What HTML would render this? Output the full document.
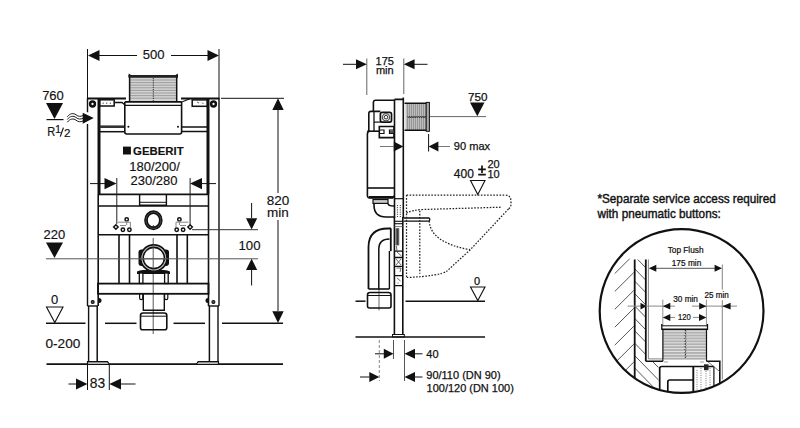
<!DOCTYPE html>
<html><head><meta charset="utf-8">
<style>
html,body{margin:0;padding:0;background:#fff;width:800px;height:428px;overflow:hidden}
svg{display:block}
text{font-family:"Liberation Sans",sans-serif;fill:#111;stroke:#111;stroke-width:0.15}
#detail-text text{stroke-width:0.4}
#side-text text{stroke-width:0.25}
#detail-text2 text{stroke-width:0.22}
</style></head><body>
<svg width="800" height="428" viewBox="0 0 800 428">
<rect width="800" height="428" fill="#fff"/>
<!-- ============ LEFT FRONT VIEW ============ -->
<g id="front" stroke="#111" fill="none" stroke-width="1">
  <!-- 500 dimension -->
  <line x1="87.5" y1="49" x2="87.5" y2="98"/>
  <line x1="219" y1="49" x2="219" y2="98"/>
  <line x1="98" y1="55.5" x2="137" y2="55.5"/>
  <line x1="171" y1="55.5" x2="209" y2="55.5"/>
  <path d="M88,55.5 L99.5,50 L99.5,61 Z M219,55.5 L207.5,50 L207.5,61 Z" fill="#111" stroke="none"/>

  <!-- grille -->
  <rect x="129.5" y="77.8" width="47.2" height="23.4" fill="#d2d2d2" stroke="none"/>
  <path d="M129.5,80.0 H176.7 M129.5,82.6 H176.7 M129.5,85.2 H176.7 M129.5,87.8 H176.7 M129.5,90.4 H176.7 M129.5,93.0 H176.7 M129.5,95.6 H176.7 M129.5,98.2 H176.7" stroke="#969696" stroke-width="0.9"/>
  <line x1="153.3" y1="78" x2="153.3" y2="101" stroke-dasharray="1.2 1" stroke-width="1" stroke="#333"/>
  <rect x="128.5" y="75" width="49.5" height="2.8" fill="#222" stroke="none"/>
  <path d="M128.5,77 L128.7,73.4 L131,75 Z M178,77 L177.8,73.4 L175.5,75 Z" fill="#111" stroke="none"/>
  <line x1="129.6" y1="77" x2="129.6" y2="101.5" stroke-width="1.5"/>
  <line x1="176.7" y1="77" x2="176.7" y2="101.5" stroke-width="1.5"/>
  <line x1="124.8" y1="101.9" x2="181.8" y2="101.9" stroke-width="1.6"/>
  <!-- frame top -->
  <line x1="87" y1="98.5" x2="126" y2="98.5" stroke-width="1.8"/>
  <line x1="181" y1="98.5" x2="219.5" y2="98.5" stroke-width="1.8"/>
  <!-- frame columns -->
  <path d="M87.5,98 L87.5,112.2 M87.5,124.1 L87.5,306" stroke-width="1.4"/>
  <line x1="88.6" y1="306" x2="88.6" y2="362" stroke-width="1.4"/>
  <line x1="99" y1="98" x2="99" y2="194" stroke-width="3"/>
  <line x1="98.2" y1="194" x2="98.2" y2="306" stroke-width="1.6"/>
  <line x1="97.2" y1="306" x2="97.2" y2="362" stroke-width="1.5"/>
  <line x1="219" y1="98" x2="219" y2="306" stroke-width="1.4"/>
  <line x1="218" y1="306" x2="218" y2="362" stroke-width="1.4"/>
  <line x1="208" y1="98" x2="208" y2="194" stroke-width="3"/>
  <line x1="208.5" y1="194" x2="208.5" y2="306" stroke-width="1.6"/>
  <line x1="209.4" y1="306" x2="209.4" y2="362" stroke-width="1.5"/>
  <line x1="87.5" y1="306" x2="98" y2="306" stroke-width="1.4"/>
  <line x1="208.5" y1="306" x2="219" y2="306" stroke-width="1.4"/>
  <circle cx="92.5" cy="104" r="2.4" stroke-width="2.5"/>
  <circle cx="213.5" cy="104" r="2.4" stroke-width="2.5"/>
  <circle cx="92.7" cy="302" r="1.5" fill="#555" stroke="#111" stroke-width="1.1"/>
  <circle cx="213.4" cy="302" r="1.5" fill="#555" stroke="#111" stroke-width="1.1"/>
  <path d="M99,298 a2.5,2.5 0 0 1 0,5" fill="#111" stroke="none"/>
  <path d="M208,298 a2.5,2.5 0 0 0 0,5" fill="#111" stroke="none"/>

  <!-- cistern top compartments -->
  <rect x="99.5" y="99.8" width="14.7" height="6.2" stroke-width="1.5"/>
  <rect x="192.2" y="99.9" width="15.2" height="6.4" stroke-width="1.5"/><path d="M197,102 l2,1 M202,102.5 l1.5,1.5" stroke="#555" stroke-width="0.9"/><path d="M190,98.8 L183,101.5 L181.6,102" stroke-width="1.2"/>
  <path d="M114.5,102.5 L122,102.5 L125,105" stroke-width="1.3"/>
  <path d="M103.1,103.2 h0.1 M106.6,103.2 h0.1 M110.3,103.2 h0.1" stroke="#555" stroke-width="1.3" stroke-linecap="round"/>
  <line x1="100" y1="126.7" x2="124.5" y2="126.7" stroke-width="2.6" stroke="#333"/>
  <line x1="100" y1="131.7" x2="124.5" y2="131.7" stroke-width="1.5"/>
  <line x1="181.5" y1="127" x2="207" y2="127" stroke-width="1.5"/>
  <line x1="181.5" y1="131.5" x2="207" y2="131.5" stroke-width="1.5"/>
  <!-- central cistern box -->
  <path d="M124.8,102 L124.8,132 Q124.8,134 126.8,134 L179.6,134 Q181.6,134 181.6,132 L181.6,102" stroke-width="1.6"/>
  <line x1="124.8" y1="105.4" x2="181.6" y2="105.4" stroke-width="1.3"/>
  <circle cx="128.4" cy="126.8" r="1" fill="#111" stroke="none"/>
  <circle cx="178" cy="126.8" r="1" fill="#111" stroke="none"/>

  <!-- cistern bottom -->
  <line x1="99" y1="194.4" x2="208" y2="194.4" stroke-width="1.8"/>
  <path d="M139.6,194.4 L139.6,205.3 L166.4,205.3 L166.4,194.4" stroke-width="1.4"/>
  <line x1="139.6" y1="202.3" x2="166.4" y2="202.3" stroke-width="1"/>
  <line x1="98" y1="206" x2="208.5" y2="206" stroke-width="1.6"/>
  <line x1="98" y1="234.7" x2="208.5" y2="234.7" stroke-width="1.6"/>

  <!-- flush ring -->
  <ellipse cx="153.4" cy="220.3" rx="7.4" ry="8.1" stroke-width="3.7"/><ellipse cx="153.4" cy="220.3" rx="7.5" ry="8.2" stroke-width="0.5" stroke="#777"/><path d="M152.5,227 L153.4,225.5 L154.3,227" stroke-width="0.9"/>

  <!-- bracket studs -->
  <g stroke-width="1.5">
    <path d="M115.9,224.8 L118.1,227 L115.9,229.2 L113.7,227 Z"/>
    <circle cx="122.9" cy="229.7" r="1.7"/><circle cx="129.4" cy="229.7" r="1.7"/>
    <circle cx="126.7" cy="219.4" r="1.7"/>
    <path d="M118,222.2 L130.4,222.2 L130.4,227.5 M120,225.5 L126,225.5 M126.7,221 L126.7,225" stroke="#888" stroke-width="1"/>
    <path d="M190.1,224.8 L192.3,227 L190.1,229.2 L187.9,227 Z"/>
    <circle cx="176.7" cy="229.7" r="1.7"/><circle cx="183.1" cy="229.7" r="1.7"/>
    <circle cx="179.4" cy="219.4" r="1.7"/>
    <path d="M176,222.2 L188.5,222.2 M176,222.2 L176,227.5 M180,225.5 L186,225.5 M179.4,221 L179.4,225" stroke="#888" stroke-width="1"/>
  </g>

  <!-- 180/200 dimension -->
  <line x1="116.8" y1="178" x2="116.8" y2="224" stroke="#222"/>
  <line x1="190.1" y1="178" x2="190.1" y2="224.5" stroke="#222"/>
  <line x1="90" y1="183.6" x2="105" y2="183.6"/>
  <line x1="202" y1="183.6" x2="216" y2="183.6"/>
  <path d="M116.5,183.6 L104.5,178 L104.5,189.2 Z M190,183.6 L202,178 L202,189.2 Z" fill="#111" stroke="none"/>

  <!-- lower zone verticals -->
  <g stroke-width="1.6">
    <line x1="119" y1="234.7" x2="119" y2="283.5"/>
    <line x1="129.5" y1="234.7" x2="129.5" y2="283.5"/>
    <line x1="177" y1="234.7" x2="177" y2="283.5"/>
    <line x1="187.3" y1="234.7" x2="187.3" y2="283.5"/>
  </g>
  <!-- drain ring -->
  <line x1="153.2" y1="238" x2="153.2" y2="334" stroke-width="0.9" stroke="#444"/>
  <path d="M137,274 L137,271.5 Q140,269.5 145,270 L162,270 Q167,269.5 170,271.5 L170,274 Z" fill="#111" stroke="none"/>
  <rect x="139.3" y="273" width="3.6" height="10.5" fill="#fff" stroke="#111" stroke-width="1.3"/>
  <rect x="164.6" y="273" width="3.6" height="10.5" fill="#fff" stroke="#111" stroke-width="1.3"/>
  <path d="M138.5,252 Q138.5,249.5 141.5,249.5 L143,249.5 L143,266 L141.5,266 Q138.5,266 138.5,263 Z" fill="#111" stroke="none"/>
  <path d="M169,252 Q169,249.5 166,249.5 L164.5,249.5 L164.5,266 L166,266 Q169,266 169,263 Z" fill="#111" stroke="none"/>
  <circle cx="153.8" cy="258" r="13.2" stroke-width="1.8" fill="#fff"/>
  <circle cx="153.8" cy="258" r="12" stroke-width="0.6" stroke="#888"/>
  <circle cx="153.8" cy="258" r="10.6" stroke-width="1.6"/>
  <line x1="153.2" y1="245.5" x2="153.2" y2="270" stroke-width="0.9" stroke="#444"/>
  <line x1="140" y1="258.8" x2="167" y2="258.8" stroke-width="1" stroke="#555"/>

  <!-- bottom bar -->
  <rect x="98" y="283.6" width="110.5" height="10.2" stroke-width="1.8"/>
  <path d="M139.6,294 L139.6,298 Q139.6,299.6 141.2,299.6 Q142.8,299.6 142.8,298 L142.8,294" stroke="#111" stroke-width="1.2"/>
  <path d="M164.6,294 L164.6,298 Q164.6,299.6 166.2,299.6 Q167.8,299.6 167.8,298 L167.8,294" stroke="#111" stroke-width="1.2"/>
  <!-- drain socket -->
  <path d="M143.3,294 L143.3,310.2 L164.3,310.2 L164.3,294" stroke-width="1.4"/>
  <path d="M140.5,315.5 Q140.5,313 143,313 L164.3,313 Q166.8,313 166.8,315.5 L166.8,327.8 Q166.8,329.8 164.8,329.8 L142.5,329.8 Q140.5,329.8 140.5,327.8 Z" stroke-width="1.6"/>
  <line x1="140.5" y1="316.2" x2="166.8" y2="316.2" stroke-width="1"/>

  <!-- floor lines -->
  <line x1="46" y1="323.3" x2="85.5" y2="323.3" stroke-width="1.5"/>
  <line x1="105" y1="323.3" x2="136.5" y2="323.3" stroke-width="1.5"/>
  <line x1="173.5" y1="323.3" x2="205" y2="323.3" stroke-width="1.5"/>
  <line x1="222" y1="323.3" x2="283" y2="323.3" stroke-width="1.5"/>
  <line x1="46.5" y1="364.1" x2="283" y2="364.1" stroke-width="1.9"/>
  <!-- feet -->
  <path d="M87.5,364 L87.5,361.6 L107.5,361.6 L109.2,364" fill="#bbb" stroke-width="1.2"/>
  <path d="M196.5,364 L198.2,361.6 L218.5,361.6 L218.5,364" fill="#bbb" stroke-width="1.2"/>

  <!-- 83 dimension -->
  <line x1="87.5" y1="364" x2="87.5" y2="390"/>
  <line x1="109.3" y1="364" x2="109.3" y2="390"/>
  <line x1="68.5" y1="384" x2="77" y2="384"/>
  <line x1="120" y1="384" x2="135.5" y2="384"/>
  <path d="M87.5,384 L76,378.5 L76,389.5 Z M109.3,384 L121,378.5 L121,389.5 Z" fill="#111" stroke="none"/>

  <!-- 760 symbol -->
  <path d="M46,103 L63,103 L54.5,119 Z" fill="#111" stroke="none"/>
  <line x1="46.5" y1="119.6" x2="63.5" y2="119.6" stroke-width="1.2"/>
  <!-- wavy + arrow -->
  <g stroke-width="0.95">
    <path d="M67.3,116.8 C70,113.2 73.5,112.8 76,114.8 C78.5,116.8 80.5,116.6 83,115.6"/>
    <path d="M67.3,119.5 C70,115.9 73.5,115.5 76,117.5 C78.5,119.5 80.5,119.3 83,118.3"/>
    <path d="M67.3,122.2 C70,118.6 73.5,118.2 76,120.2 C78.5,122.2 80.5,122 83,121"/>
  </g>
  <path d="M93.7,118 L82.7,112.7 L82.7,123.7 Z" fill="#111" stroke="none"/>
  <!-- 220 symbol -->
  <path d="M46,242.4 L63,242.4 L54.5,258 Z" fill="#111" stroke="none"/>
  <line x1="46" y1="258.8" x2="258" y2="258.8" stroke-width="1" stroke="#555"/>
  <!-- 0 symbol -->
  <path d="M46.5,307 L63,307 L54.8,322.5 Z" stroke-width="1.1"/>

  <!-- 820 dimension -->
  <line x1="221" y1="98.3" x2="284" y2="98.3"/>
  <line x1="278" y1="110" x2="278" y2="193"/>
  <line x1="278" y1="220" x2="278" y2="311"/>
  <path d="M278,98.3 L272.3,110 L283.7,110 Z M278,323 L272.3,311.3 L283.7,311.3 Z" fill="#111" stroke="none"/>

  <!-- 100 dimension -->
  <line x1="192" y1="229.7" x2="258" y2="229.7" stroke="#333"/>
  <line x1="251.6" y1="203" x2="251.6" y2="218"/>
  <line x1="251.6" y1="270" x2="251.6" y2="285.5"/>
  <path d="M251.6,229.5 L246,218.3 L257.2,218.3 Z M251.6,258.8 L246,270 L257.2,270 Z" fill="#111" stroke="none"/>
</g>

<g id="front-text">
  <text x="153.7" y="58.8" font-size="13.6" text-anchor="middle" textLength="21.8" lengthAdjust="spacingAndGlyphs">500</text>
  <text x="53" y="99.8" font-size="13" text-anchor="middle">760</text>
  <text x="47.2" y="136" font-size="12.4" textLength="8" lengthAdjust="spacingAndGlyphs">R</text>
  <text x="55" y="132.9" font-size="10.9">1</text>
  <path d="M60.3,136.6 L63.4,127.6" stroke="#111" stroke-width="1.2"/>
  <text x="64" y="136.8" font-size="11.7">2</text>
  <rect x="123" y="146.6" width="7.9" height="7.9" fill="#111"/>
  <text x="133.1" y="155" font-size="11.2" font-weight="bold" textLength="50.5" lengthAdjust="spacingAndGlyphs">GEBERIT</text>
  <text x="154.6" y="171.2" font-size="13" text-anchor="middle">180/200/</text>
  <text x="154" y="185.1" font-size="13" text-anchor="middle">230/280</text>
  <text x="54.3" y="239.3" font-size="13" text-anchor="middle">220</text>
  <text x="54.5" y="304.3" font-size="13" text-anchor="middle">0</text>
  <text x="62.9" y="347.8" font-size="13.6" text-anchor="middle">0-200</text>
  <text x="97.5" y="388.1" font-size="13.8" text-anchor="middle">83</text>
  <text x="278" y="205.4" font-size="13.5" text-anchor="middle">820</text>
  <text x="278" y="217.4" font-size="13.5" text-anchor="middle">min</text>
  <text x="249.5" y="250.3" font-size="13.2" text-anchor="middle">100</text>
</g>

<!-- ============ MIDDLE SIDE VIEW ============ -->
<g id="side" stroke="#111" fill="none" stroke-width="1">
  <!-- 175 min dim -->
  <line x1="366.8" y1="58.5" x2="366.8" y2="95" stroke="#666"/>
  <line x1="403.8" y1="58.5" x2="403.8" y2="94" stroke="#666"/>
  <line x1="343" y1="64.3" x2="357" y2="64.3"/>
  <line x1="414" y1="64.3" x2="427.5" y2="64.3"/>
  <path d="M366.8,64.3 L356,59.3 L356,69.3 Z M403.8,64.3 L414.6,59.3 L414.6,69.3 Z" fill="#111" stroke="none"/>
  <!-- 750 -->
  <path d="M470,102.5 L484.5,102.5 L477.3,116.3 Z" fill="#111" stroke="none"/>
  <line x1="430" y1="116.6" x2="486" y2="116.6" stroke="#666"/>

  <!-- cistern upper -->
  <path d="M373.4,111.5 L373.4,102.5 Q373.4,100.3 375.6,100.3 L394.5,100.3" stroke-width="1.6"/>
  <path d="M380.4,111.4 L371,111.4 Q368.8,111.4 368.8,113.6 L368.8,131.2" stroke-width="1.6"/>
  <line x1="374" y1="111.4" x2="374" y2="131" stroke-width="1.3"/>
  <rect x="380.4" y="112.3" width="11.1" height="9.8" rx="1.8" stroke-width="1.7"/>
  <circle cx="386" cy="117.2" r="3.6" stroke-width="1.3" stroke="#555"/>
  <circle cx="386" cy="117.2" r="1.8" stroke-width="0.9"/>
  <line x1="374" y1="122.1" x2="381" y2="122.1" stroke-width="1.2"/>
  <path d="M379.3,126.5 L394,126.5 L394,137.6 L379.3,137.6 Z" stroke-width="1.6"/>
  <path d="M379.3,130 L384,130 L384,133.5 L379.3,133.5 M394,130 L389.5,130 L389.5,133.5 L394,133.5" stroke-width="1.2"/><rect x="390" y="130.5" width="3.5" height="2.5" fill="#555" stroke="none"/>
  <line x1="367.2" y1="131.2" x2="379.3" y2="131.2" stroke-width="1.6"/>
  <!-- plate -->
  <path d="M394.5,99.4 L403.3,99.4 L403.3,97.5 M394.5,99.4 L394.5,218 M403.3,99.4 L403.3,218" stroke-width="1.6"/>
  <!-- side grille -->
  <rect x="405.5" y="103.3" width="20.5" height="27" fill="#bdbdbd" stroke="none"/>
  <path d="M407.5,103.5 L407.5,130 M409.5,103.5 L409.5,130 M411.5,103.5 L411.5,130 M413.5,103.5 L413.5,130 M415.5,103.5 L415.5,130 M417.5,103.5 L417.5,130 M419.5,103.5 L419.5,130 M421.5,103.5 L421.5,130 M423.5,103.5 L423.5,130 M425.5,103.5 L425.5,130" stroke="#8a8a8a" stroke-width="0.8"/>
  <path d="M404.5,103.3 L426.5,103.3 M404.5,130.3 L426.5,130.3" stroke-width="1.4"/>
  <path d="M407.5,116 l1.1,2 l1.1,-2 l1.1,2 l1.1,-2 l1.1,2 l1.1,-2 l1.1,2 l1.1,-2 l1.1,2 l1.1,-2 l1.1,2 l1.1,-2 l1.1,2 l1.1,-2 l1.1,2 l1.1,-2 l1.1,2" stroke-width="0.7" stroke="#222" fill="none"/>
  <rect x="426.2" y="102.4" width="3.2" height="28.9" fill="#aaa" stroke="#111" stroke-width="1"/>
  <!-- cistern body -->
  <path d="M367.4,134 Q367.4,131.2 370,131.2 M367.4,134 L367.4,195.5 Q367.4,197.8 369.6,197.8 L391.8,197.8 Q394,197.8 394,195.5" stroke-width="1.6"/>
  <line x1="367.4" y1="188" x2="394" y2="188" stroke-width="1.6"/>
  <line x1="369" y1="197.3" x2="393" y2="197.3" stroke-width="2.6"/>
  <!-- 90 max dim -->
  <line x1="428.6" y1="134" x2="428.6" y2="151.5"/>
  <line x1="380" y1="146.5" x2="394" y2="146.5" stroke="#777"/>
  <line x1="438" y1="146.5" x2="450" y2="146.5" stroke="#777"/>
  <path d="M403.3,146.5 L393.8,141.5 L393.8,151.5 Z M428.6,146.5 L438.4,141.5 L438.4,151.5 Z" fill="#111" stroke="none"/>
  <!-- elbow from cistern -->
  <rect x="373" y="199.5" width="15" height="3.9" fill="#ccc" stroke="#111" stroke-width="1.2"/>
  <path d="M374,203.5 L374,205 Q374,217 386,217 L394,217" stroke-width="1.6"/>
  <path d="M388,203.5 Q388,206 394,206" stroke-width="1.4"/>
  <line x1="394" y1="198.7" x2="403.5" y2="198.7" stroke-width="1.2"/>
  <path d="M397.4,205 L397.4,217 M400.3,205 L400.3,217" stroke-dasharray="1 1.2" stroke-width="0.9"/>
  <!-- rod -->
  <path d="M403.5,218 L429,218 Q430.6,219.6 429,221.2 L403.5,221.2" stroke-width="1.3"/>
  <!-- leg / lower plate -->
  <path d="M394.4,217 L394.4,335 M402.8,217 L402.8,335" stroke-width="1.6"/>
  <line x1="394.4" y1="221.3" x2="402.8" y2="221.3" stroke-width="1.1"/>
  <line x1="394.4" y1="223.7" x2="402.8" y2="223.7" stroke-width="1.1"/>
  <line x1="394.4" y1="226.6" x2="402.8" y2="226.6" stroke-width="0.8" stroke="#555"/>
  <rect x="395.6" y="228.3" width="3.6" height="17" fill="#333" stroke="none"/>
  <path d="M396.4,229 L396.4,245 M398.4,229 L398.4,245" stroke="#888" stroke-width="0.6"/>
  <path d="M390.8,228.3 L390.8,251.1" stroke-width="1.8"/>
  <path d="M389.4,251 L389.4,289" stroke-width="1.4"/>
  <path d="M394.4,251.1 L402.8,251.1 M394.4,257.5 L402.8,257.5 M394.4,266.3 L402.8,266.3 M394.4,275.7 L402.8,275.7 M394.4,285.6 L402.8,285.6" stroke-width="1.3"/>
  <path d="M396.5,246 L397,252 L401.5,256 M396,259 L401,265 M401,259 L396,265 M396.5,268 L401,268 L400,272 M397,278 L400.5,281 M397.5,283 L398.5,283" stroke-width="0.8" stroke="#444"/>
  <rect x="392.5" y="334.5" width="11.8" height="2.5" stroke-width="1"/>
  <!-- drain elbow -->
  <path d="M368.5,289 L368.5,247 Q368.5,228.5 388,228.5 L391,228.5" stroke-width="1.8"/>
  
  <path d="M378.8,289 L378.8,249 Q378.8,239 389.5,239" stroke-width="1.5"/>
  <line x1="379" y1="289" x2="379" y2="310.5" stroke-width="0.8" stroke="#444"/>
  <line x1="368.5" y1="289" x2="389.4" y2="289" stroke-width="1.6"/>
  <path d="M367.5,295 Q367.5,292.5 370,292.5 L388.5,292.5 Q391,292.5 391,295 L391,306 Q391,308 389,308 L369.5,308 Q367.5,308 367.5,306 Z" stroke-width="1.6"/>
  <line x1="367.5" y1="295.5" x2="391" y2="295.5" stroke-width="1"/>
  <!-- floor -->
  <line x1="355.5" y1="301.2" x2="365.5" y2="301.2" stroke-width="1.5"/>
  <line x1="405.5" y1="301.2" x2="485" y2="301.2" stroke-width="1.5"/>
  <line x1="355.5" y1="337" x2="485" y2="337" stroke-width="1.7"/>
  <path d="M470.5,287 L485,287 L477.8,300.5 Z" stroke-width="1.1"/>
  <!-- 400 triangle -->
  <path d="M470.5,180.5 L485,180.5 L477.8,194.5 Z" stroke-width="1.1"/>

  <!-- toilet dotted -->
  <g stroke-dasharray="1.6 1.5" stroke-width="1.25" stroke="#222">
    <path d="M406.5,195 L505,195 Q511,195 511,201.5 L511,204 Q511,207 508.5,209"/>
    <path d="M508.5,209 L470,250 L447,271 Q440,276 407,277.5"/>
    <path d="M406.5,195 L406.5,277.5"/>
    <path d="M406.5,213 Q412,210 423,209.5 L501.5,207.2"/>
    <path d="M429.2,221 Q430,232 440,239 Q452,247 470,249.5"/>
    <path d="M419.8,210.7 L419.8,273.7"/>
  </g>

  <!-- 40 & 90/110 dims -->
  <line x1="379.3" y1="340" x2="379.3" y2="381" stroke="#888" stroke-dasharray="3 2"/>
  <line x1="393.5" y1="340" x2="393.5" y2="359" stroke="#555"/>
  <line x1="404.5" y1="340" x2="404.5" y2="381" stroke="#555"/>
  <line x1="375" y1="353.8" x2="384" y2="353.8"/>
  <line x1="415" y1="353.8" x2="422.5" y2="353.8"/>
  <path d="M393.5,353.8 L383.8,348.8 L383.8,358.8 Z M404.5,353.8 L415,348.8 L415,358.8 Z" fill="#111" stroke="none"/>
  <line x1="360" y1="377" x2="369.5" y2="377"/>
  <line x1="415" y1="377" x2="422.5" y2="377"/>
  <path d="M379.3,377 L369.3,372 L369.3,382 Z M404.5,377 L415,372 L415,382 Z" fill="#111" stroke="none"/>
</g>
<g id="side-text" style="stroke-width:0.3">
  <text x="384.8" y="65.3" font-size="11" text-anchor="middle">175</text>
  <text x="384.8" y="73.8" font-size="11" text-anchor="middle">min</text>
  <text x="477.8" y="100.8" font-size="11.7" text-anchor="middle">750</text>
  <text x="453.8" y="150" font-size="11" textLength="36.3" lengthAdjust="spacingAndGlyphs">90 max</text>
  <text x="453.8" y="177.5" font-size="12">400</text>
  <path d="M482,165.5 L482,173 M478.2,169.3 L485.8,169.3 M478.2,174.6 L485.8,174.6" stroke="#111" stroke-width="1.7" fill="none"/>
  <text x="487.5" y="167.5" font-size="11">20</text>
  <text x="487.5" y="177.5" font-size="11">10</text>
  <text x="477" y="284.5" font-size="11" text-anchor="middle">0</text>
  <text x="426.3" y="358" font-size="11">40</text>
  <text x="426.3" y="379.2" font-size="10.6" textLength="74.3" lengthAdjust="spacingAndGlyphs">90/110 (DN 90)</text>
  <text x="426.6" y="392.4" font-size="10.6" textLength="87.2" lengthAdjust="spacingAndGlyphs">100/120 (DN 100)</text>
</g>

<!-- ============ RIGHT DETAIL ============ -->
<g id="detail-text" style="stroke-width:0.45">
  <text x="597.5" y="202.5" font-size="12.2" textLength="178.3" lengthAdjust="spacingAndGlyphs">*Separate service access required</text>
  <text x="597.5" y="218.2" font-size="12.2" textLength="123.3" lengthAdjust="spacingAndGlyphs">with pneumatic buttons:</text>
</g>
<defs><clipPath id="cc"><circle cx="681.6" cy="311" r="81.5"/></clipPath></defs>
<g id="detail" clip-path="url(#cc)" stroke="#111" fill="none" stroke-width="1">
  <!-- hatching left of wall -->
  <clipPath id="hc1"><rect x="600" y="258.8" width="34" height="140"/></clipPath>
  <g stroke-width="0.9" stroke="#444" clip-path="url(#hc1)">
    <path d="M614.8,273.5 L633.8,254.6 M614.8,291.4 L633.8,272.5 M614.8,309.3 L633.8,290.4 M614.8,327.2 L633.8,308.3 M614.8,345.1 L633.8,326.2 M614.8,363.0 L633.8,344.1 M614.8,380.9 L633.8,362.0 M614.8,398.8 L633.8,379.9 M614.8,416.7 L633.8,397.8 M614.8,434.6 L633.8,415.7"/>
  </g>
  <clipPath id="hc2"><path d="M634.6,259.4 L645.6,259.4 L645.6,361.2 L658.5,361.2 L658.5,400 L634.6,400 Z"/></clipPath>
  <g stroke-width="0.9" stroke="#444" clip-path="url(#hc2)">
    <path d="M634.6,243.9 L674.6,284.9 M634.6,256.3 L674.6,297.3 M634.6,268.7 L674.6,309.7 M634.6,281.1 L674.6,322.1 M634.6,293.5 L674.6,334.5 M634.6,305.9 L674.6,346.9 M634.6,318.3 L674.6,359.3 M634.6,330.7 L674.6,371.7 M634.6,343.1 L674.6,384.1 M634.6,355.5 L674.6,396.5 M634.6,367.9 L674.6,408.9 M634.6,380.3 L674.6,421.3 M634.6,392.7 L674.6,433.7 M634.6,405.1 L674.6,446.1 M634.6,417.5 L674.6,458.5"/>
  </g>
  <line x1="634.7" y1="259.4" x2="634.7" y2="395" stroke-width="1.8"/>
  <line x1="645.8" y1="259.4" x2="645.8" y2="361.2" stroke-width="1.8"/>
  <path d="M648.4,259.4 L648.4,358.9 L662.6,358.9" stroke-width="0.8" stroke="#666"/>
  <path d="M645.8,361.3 L662.9,361.3 M706.5,361.3 L719.8,361.3 L719.8,384" stroke-width="1.6"/>
  <path d="M722.3,264.5 L722.3,289.7 M722.3,300.2 L722.3,379.5" stroke-width="0.8" stroke="#666"/>
  <!-- 175 min dim -->
  <line x1="656" y1="268.3" x2="715" y2="268.3" stroke="#555"/>
  <path d="M648.8,268.3 L656.3,264.8 L656.3,271.8 Z M722,268.3 L714.6,264.8 L714.6,271.8 Z" fill="#111" stroke="none"/>
  <!-- 30/25 dims -->
  <path d="M627.7,306.1 L675,306.1 M692,306.1 L737,306.1" stroke="#888"/>
  <path d="M646.5,306.2 L640.5,302.8 L640.5,309.6 Z M662.8,306.2 L670.3,302.8 L670.3,309.6 Z M706.4,306.2 L699.2,302.8 L699.2,309.6 Z M722.2,306.2 L730.6,302.8 L730.6,309.6 Z" fill="#111" stroke="none"/>
  <line x1="662.8" y1="299.6" x2="662.8" y2="326.7" stroke="#777" stroke-width="0.8"/>
  <line x1="706.4" y1="299.6" x2="706.4" y2="326.7" stroke="#777" stroke-width="0.8"/>
  <!-- 120 dim -->
  <line x1="670" y1="317.4" x2="675" y2="317.4" stroke="#888"/>
  <line x1="693" y1="317.4" x2="699" y2="317.4" stroke="#888"/>
  <path d="M662.8,317.4 L670.3,313.9 L670.3,320.9 Z M706.4,317.4 L699,313.9 L699,320.9 Z" fill="#111" stroke="none"/>
  <!-- grille -->
  <rect x="662.8" y="329.3" width="43.6" height="29.8" fill="#b2b2b2" stroke="none"/>
  <path d="M662.8,331.2 H706.4 M662.8,334.1 H706.4 M662.8,337.0 H706.4 M662.8,339.9 H706.4 M662.8,342.8 H706.4 M662.8,345.7 H706.4 M662.8,348.6 H706.4 M662.8,351.5 H706.4 M662.8,354.4 H706.4 M662.8,357.3 H706.4" stroke="#e2e2e2" stroke-width="1"/>
  <path d="M684.9,330 l1.2,1.4 l-1.2,1.4 l1.2,1.4 l-1.2,1.4 l1.2,1.4 l-1.2,1.4 l1.2,1.4 l-1.2,1.4 l1.2,1.4 l-1.2,1.4 l1.2,1.4 l-1.2,1.4 l1.2,1.4 l-1.2,1.4 l1.2,1.4 l-1.2,1.4 l1.2,1.4 l-1.2,1.4 l1.2,1.4 l-1.2,1.4" stroke="#111" stroke-width="1" stroke-dasharray="1.3 0.8" fill="none"/>
  <rect x="661.8" y="325.6" width="45.7" height="3.6" fill="#fff" stroke="none"/>
  <line x1="661.8" y1="325.8" x2="707.5" y2="325.8" stroke-width="1"/>
  <line x1="661.8" y1="329.3" x2="707.5" y2="329.3" stroke-width="1.6"/>
  <path d="M661.8,324 L661.8,330 M707.5,324 L707.5,330" stroke-width="1.3"/>
  <line x1="662.9" y1="329.3" x2="662.9" y2="361.3" stroke-width="1.2"/>
  <line x1="706.5" y1="329.3" x2="706.5" y2="361.3" stroke-width="1.2"/>
  <line x1="662.9" y1="359.2" x2="706.5" y2="359.2" stroke-width="0.7" stroke="#999"/>
  <!-- cistern below -->
  <path d="M659.7,398 L659.7,368.5 Q659.7,366.5 661.7,366.5 L713.9,366.5" stroke-width="1.7"/>
  <path d="M667.8,398 L667.8,382 Q667.8,380 669.8,380 L693.3,380" stroke-width="1.7"/>
  <line x1="693.3" y1="366.5" x2="693.3" y2="398" stroke-width="1.9"/>
  <line x1="713.9" y1="366.5" x2="713.9" y2="392" stroke-width="1.2"/>
  <path d="M697,370 L697,392 M701,368 L701,392 M706,371 L706,392 M710,368 L710,392" stroke-dasharray="1 1.3" stroke-width="0.8" stroke="#555"/>
  <rect x="704" y="364.3" width="4.5" height="5.9" fill="#222" stroke="none"/>
  <line x1="708" y1="361.8" x2="719.8" y2="371.6" stroke-width="0.8" stroke="#555"/>
  <path d="M664,362 L668,362 M700,362 L704,362" stroke-width="0.7" stroke="#777"/>
</g>
<circle cx="681.6" cy="311" r="81.9" stroke="#111" stroke-width="2.2" fill="none"/>
<g id="detail-text2" style="stroke-width:0.25">
  <text x="685.6" y="253" font-size="8.2" text-anchor="middle" textLength="35.8" lengthAdjust="spacingAndGlyphs">Top Flush</text>
  <text x="686.5" y="266" font-size="8.2" text-anchor="middle" textLength="29.5" lengthAdjust="spacingAndGlyphs">175 min</text>
  <text x="685.6" y="302.4" font-size="8.2" text-anchor="middle" textLength="24.7" lengthAdjust="spacingAndGlyphs">30 min</text>
  <text x="716.6" y="297.8" font-size="8.2" text-anchor="middle" textLength="24.3" lengthAdjust="spacingAndGlyphs">25 min</text>
  <text x="684.4" y="319.8" font-size="8.2" text-anchor="middle" textLength="12.8" lengthAdjust="spacingAndGlyphs">120</text>
</g>
</svg>
</body></html>
